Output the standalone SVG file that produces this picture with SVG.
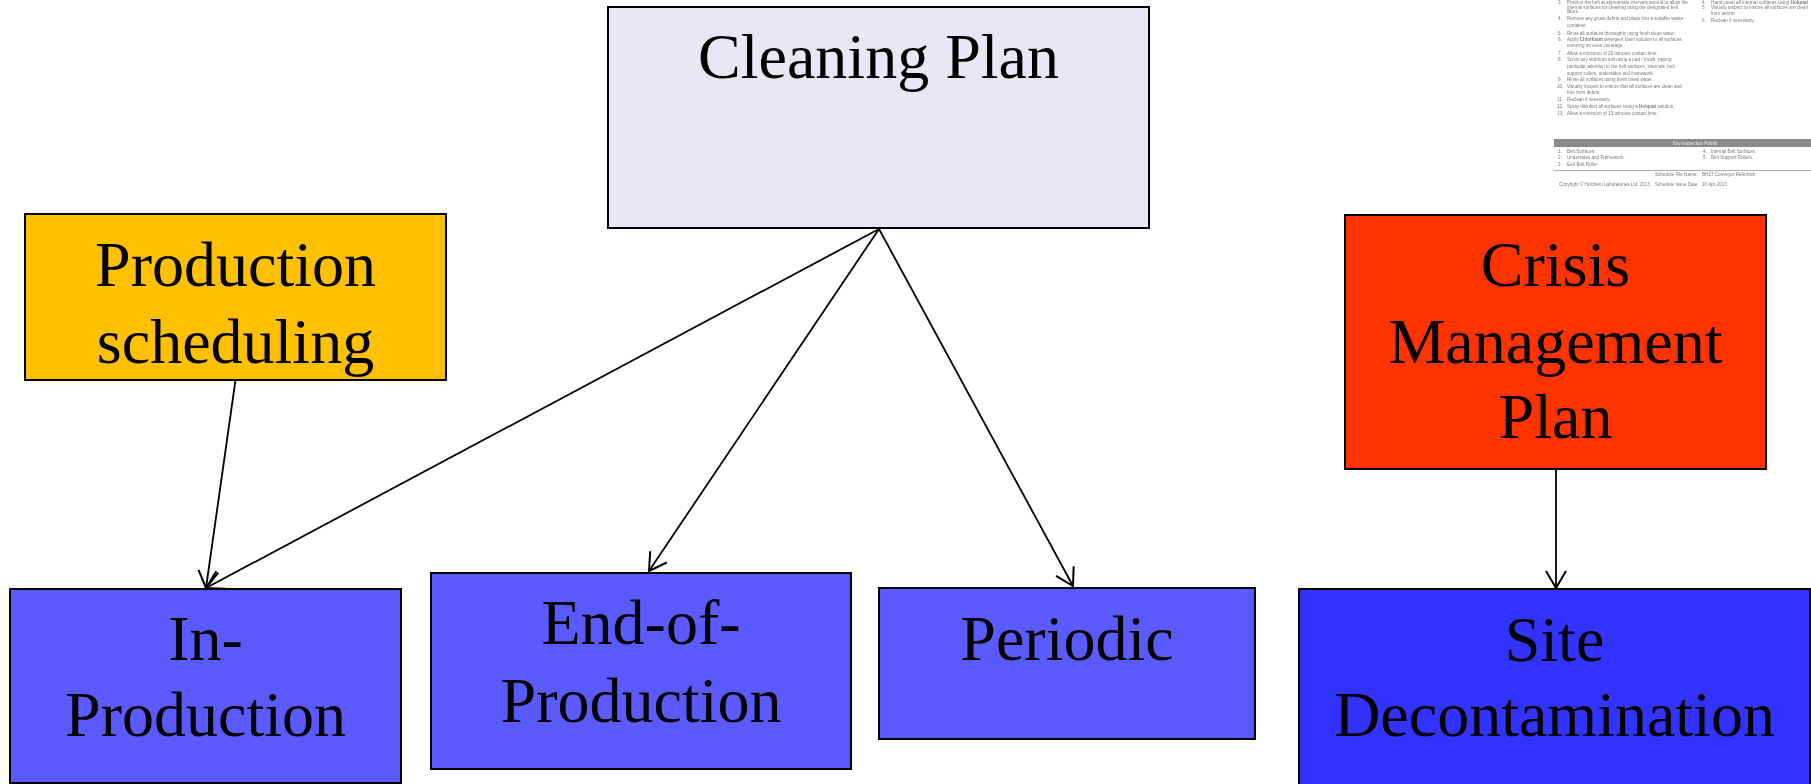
<svg xmlns="http://www.w3.org/2000/svg" width="1811" height="784" viewBox="0 0 1811 784">
  <style>
    .box { stroke: #000; stroke-width: 2; }
    .lbl { font-family: "Liberation Serif", "Times New Roman", serif; font-size: 64px; fill: #000; text-anchor: middle; }
    .edge { stroke: #000; stroke-width: 1.8; fill: none; marker-end: url(#arrow); }
    .doc { font-family: "Liberation Sans", Arial, sans-serif; font-size: 4.6px; fill: #7a7a7a; }
  </style>
  <defs>
    <marker id="arrow" viewBox="-20 -12 22 24" refX="0" refY="0" markerWidth="22" markerHeight="24" markerUnits="userSpaceOnUse" orient="auto" overflow="visible">
      <path d="M-17,-10 L0,0 L-17,10" fill="none" stroke="#000" stroke-width="2"/>
    </marker>
    <filter id="soft" x="-5%" y="-5%" width="110%" height="110%">
      <feGaussianBlur stdDeviation="0.35"/>
    </filter>
  </defs>

  <rect width="1811" height="784" fill="#fff"/>

  <!-- cleaning schedule page excerpt -->
  <g id="schedule-page" filter="url(#soft)">
    <g class="doc">
      <text x="1558" y="4">3.</text><text x="1567" y="4">Position the belt at appropriate intervals around to allow the</text>
      <text x="1567" y="8.5">internal surfaces for cleaning using the designated belt</text>
      <text x="1567" y="13">lifters.</text>
      <text x="1558" y="19.5">4.</text><text x="1567" y="19.5">Remove any gross debris and place into a suitable waste</text>
      <text x="1567" y="26.5">container.</text>
      <text x="1558" y="34.5">5.</text><text x="1567" y="34.5">Rinse all surfaces thoroughly using fresh clean water.</text>
      <text x="1558" y="40.5">6.</text><text x="1567" y="40.5">Apply <tspan font-weight="bold">Chlorfoam</tspan> detergent foam solution to all surfaces</text>
      <text x="1567" y="46.5">ensuring an even coverage.</text>
      <text x="1558" y="54.5">7.</text><text x="1567" y="54.5">Allow a minimum of 20 minutes contact time.</text>
      <text x="1558" y="61">8.</text><text x="1567" y="61">Scrub any stubborn soil using a pad / brush, paying</text>
      <text x="1567" y="67.5">particular attention to the belt surfaces, internals, belt</text>
      <text x="1567" y="74.5">support rollers, undersides and framework.</text>
      <text x="1558" y="81">9.</text><text x="1567" y="81">Rinse all surfaces using fresh clean water.</text>
      <text x="1557" y="87.5">10.</text><text x="1567" y="87.5">Visually inspect to ensure that all surfaces are clean and</text>
      <text x="1567" y="94">free from debris.</text>
      <text x="1557" y="100.5">11.</text><text x="1567" y="100.5">Reclean if necessary.</text>
      <text x="1557" y="107.5">12.</text><text x="1567" y="107.5">Spray disinfect all surfaces using a <tspan font-weight="bold">Holquat</tspan> solution.</text>
      <text x="1557" y="114.5">13.</text><text x="1567" y="114.5">Allow a minimum of 15 minutes contact time.</text>

      <text x="1702" y="4">4.</text><text x="1711" y="4" textLength="97" lengthAdjust="spacingAndGlyphs">Hand clean all internal surfaces using <tspan font-weight="bold">Holquat</tspan></text>
      <text x="1702" y="9">5.</text><text x="1711" y="9" textLength="97" lengthAdjust="spacingAndGlyphs">Visually inspect to ensure all surfaces are clean</text>
      <text x="1711" y="14.5">from debris.</text>
      <text x="1702" y="21.5">6.</text><text x="1711" y="21.5">Reclean if necessary.</text>
    </g>
    <rect x="1554" y="139" width="257" height="8" fill="#8a8a8a"/>
    <text class="doc" x="1695" y="144.8" text-anchor="middle" style="fill:#e8e8e8">Key Inspection Points</text>
    <g class="doc">
      <text x="1558" y="152.5">1.</text><text x="1567" y="152.5">Belt Surfaces.</text>
      <text x="1558" y="158.5">2.</text><text x="1567" y="158.5">Undersides and Framework.</text>
      <text x="1558" y="165.5">3.</text><text x="1567" y="165.5">End Belt Roller.</text>
      <text x="1703" y="152.5">4.</text><text x="1711" y="152.5">Internal Belt Surfaces.</text>
      <text x="1703" y="158.5">5.</text><text x="1711" y="158.5">Belt Support Rollers.</text>
      <text x="1655" y="176">Schedule File Name:</text><text x="1702" y="176">BH27 Conveyor Refurbish</text>
      <text x="1559" y="185.5">Copyright © Holchem Laboratories Ltd. 2013</text>
      <text x="1655" y="185.5">Schedule Issue Date:</text><text x="1702" y="185.5">10 Apr 2013</text>
    </g>
    <line x1="1554" y1="170.5" x2="1811" y2="170.5" stroke="#9a9a9a" stroke-width="0.8"/>
  </g>

  <!-- connectors -->
  <g id="connectors">
    <line class="edge" x1="235.5" y1="380" x2="206" y2="588"/>
    <line class="edge" x1="879" y1="229" x2="206" y2="588"/>
    <line class="edge" x1="879" y1="229" x2="649" y2="571"/>
    <line class="edge" x1="879" y1="229" x2="1073" y2="586"/>
    <line class="edge" x1="1556" y1="469" x2="1556" y2="588"/>
  </g>

  <!-- nodes -->
  <g id="cleaning-plan">
    <rect class="box" x="608" y="7" width="541" height="221" fill="#e8e8f4"/>
    <text class="lbl" x="878.5" y="78">Cleaning Plan</text>
  </g>

  <g id="production-scheduling">
    <rect class="box" x="25" y="214" width="421" height="166" fill="#ffc000"/>
    <text class="lbl" x="235.5" y="286">Production</text>
    <text class="lbl" x="235.5" y="363">scheduling</text>
  </g>

  <g id="crisis-management-plan">
    <rect class="box" x="1345" y="215" width="421" height="254" fill="#ff3300"/>
    <text class="lbl" x="1555.5" y="286">Crisis</text>
    <text class="lbl" x="1555.5" y="363">Management</text>
    <text class="lbl" x="1555.5" y="438">Plan</text>
  </g>

  <g id="in-production">
    <rect class="box" x="10" y="589" width="391" height="194" fill="#5a5aff"/>
    <text class="lbl" x="205.5" y="660">In-</text>
    <text class="lbl" x="205.5" y="736">Production</text>
  </g>

  <g id="end-of-production">
    <rect class="box" x="431" y="573" width="420" height="196" fill="#5a5aff"/>
    <text class="lbl" x="641" y="644">End-of-</text>
    <text class="lbl" x="641" y="722">Production</text>
  </g>

  <g id="periodic">
    <rect class="box" x="879" y="588" width="376" height="151" fill="#5a5aff"/>
    <text class="lbl" x="1067" y="660">Periodic</text>
  </g>

  <g id="site-decontamination">
    <rect class="box" x="1299" y="589" width="511" height="220" fill="#3333ff"/>
    <text class="lbl" x="1554.5" y="661">Site</text>
    <text class="lbl" x="1554.5" y="736">Decontamination</text>
  </g>
</svg>
